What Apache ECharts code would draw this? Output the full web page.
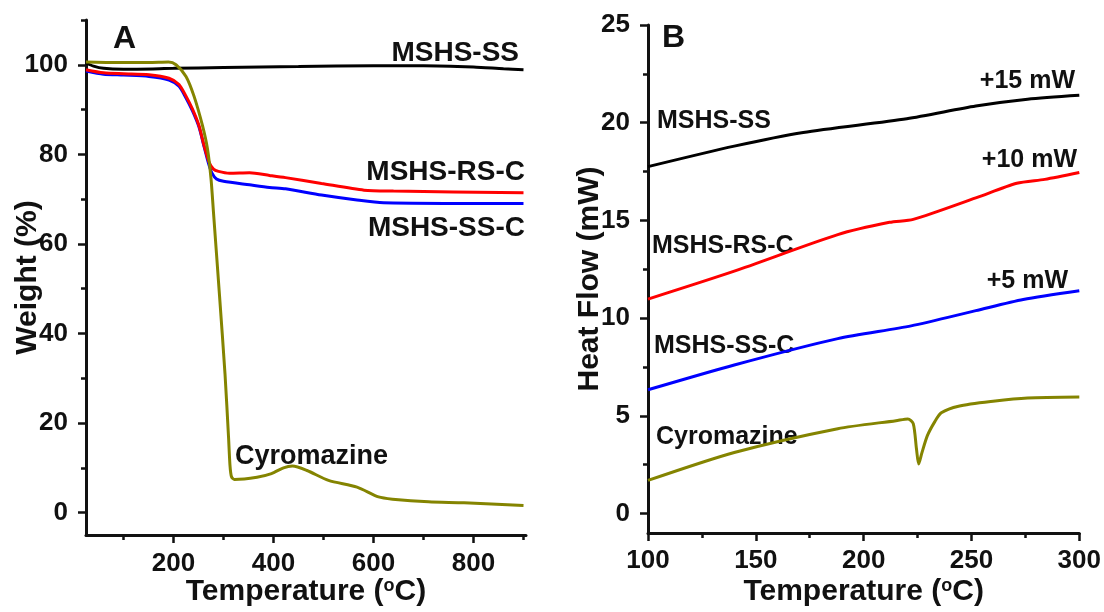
<!DOCTYPE html>
<html>
<head>
<meta charset="utf-8">
<script src="https://cdn.jsdelivr.net/npm/echarts@6/dist/echarts.min.js"></script>
<style>
  html, body { margin: 0; padding: 0; background: #fff; }
  #chart { width: 1104px; height: 612px; }
</style>
</head>
<body>
<div id="chart"></div>
<script>
// panel A: TGA, [temperature, weight %]
var tgaSS = [[25,100.4],[40,99.7],[60,99.2],[100,99.0],[200,99.2],[300,99.4],[450,99.6],[600,99.8],[700,99.8],[800,99.5],[860,99.1],[900,98.9]];
var tgaRSC = [[25,98.9],[60,98.2],[100,98.0],[151,97.8],[191,97.0],[211,95.6],[225,93.0],[238,90.1],[251,86.4],[261,82.0],[271,78.3],[280,76.7],[290,76.2],[312,75.8],[352,75.9],[392,75.3],[424,74.8],[496,73.5],[581,72.0],[640,71.8],[900,71.4]];
var tgaSSC = [[25,98.6],[60,97.9],[100,97.7],[151,97.4],[191,96.6],[211,95.2],[225,92.6],[238,89.7],[251,86.1],[261,81.8],[270,78.0],[277,75.8],[286,74.5],[300,74.0],[352,73.2],[392,72.6],[424,72.3],[496,70.9],[567,69.8],[620,69.2],[900,69.0]];
var tgaCyro = [[25,100.6],[100,100.5],[150,100.5],[190,100.6],[205,100.0],[225,97.4],[241,93.0],[258,86.4],[268,81.2],[275,74.6],[280,67.0],[292,48.5],[303,31.0],[310,17.0],[313,10.5],[316,8.0],[322,7.4],[367,7.9],[396,8.7],[420,10.0],[438,10.4],[467,9.4],[510,7.2],[567,5.7],[610,3.5],[638,3.0],[710,2.4],[781,2.2],[900,1.6]];

// panel B: DSC, [temperature, heat flow mW]
var dscSS = [[100,17.75],[140,18.8],[172,19.5],[220,20.2],[252,20.85],[276,21.2],[300,21.4]];
var dscRSC = [[100,10.97],[140,12.4],[188,14.27],[212,14.9],[223,15.05],[252,16.15],[271,16.9],[284,17.1],[300,17.45]];
var dscSSC = [[100,6.33],[140,7.6],[188,8.95],[222,9.6],[252,10.38],[274,10.95],[300,11.4]];
var dscCyro = [[100,1.69],[140,3.12],[188,4.34],[215,4.75],[220.5,4.84],[223,4.6],[224.5,3.3],[225.5,2.53],[227,3.1],[229.5,3.97],[233,4.7],[236,5.15],[244,5.49],[260,5.74],[276,5.91],[300,5.96]];

var tgaXMajor = [200, 400, 600, 800];
var tgaXMinor = [100, 300, 500, 700, 900];
var tgaYMajor = [0, 20, 40, 60, 80, 100];
var tgaYMinor = [10, 30, 50, 70, 90, 110];
var dscXMajor = [100, 150, 200, 250, 300];
var dscXMinor = [125, 175, 225, 275];
var dscYMajor = [0, 5, 10, 15, 20, 25];
var dscYMinor = [2.5, 7.5, 12.5, 17.5, 22.5];

var FONT = "'Liberation Sans', Arial, sans-serif";
var INK = '#111';

function majorAxis(grid, min, max, ticks, margin, extra) {
    var ax = {
        type: 'value', gridIndex: grid, min: min, max: max,
        axisLine: { show: true, onZero: false, lineStyle: { color: INK, width: 3 } },
        axisTick: { show: true, customValues: ticks, length: 8, lineStyle: { color: INK, width: 2.5 } },
        axisLabel: { customValues: ticks, margin: margin, color: INK, fontSize: 26, fontWeight: 'bold', fontFamily: FONT },
        splitLine: { show: false },
        nameMoveOverlap: false
    };
    for (var k in extra) ax[k] = extra[k];
    return ax;
}
function minorAxis(grid, min, max, ticks, pos) {
    return {
        type: 'value', gridIndex: grid, min: min, max: max, position: pos,
        axisLine: { show: false, onZero: false },
        axisTick: { show: true, customValues: ticks, length: 5, lineStyle: { color: INK, width: 2.5 } },
        axisLabel: { show: false },
        splitLine: { show: false }
    };
}

function tempName(gap) {
    return {
        position: 'bottom',
        name: 'Temperature ({sup|o}C)', nameLocation: 'middle', nameGap: gap,
        nameTextStyle: {
            color: INK, fontSize: 30, fontWeight: 'bold', fontFamily: FONT,
            rich: { sup: { fontSize: 18, fontWeight: 'bold', fontFamily: FONT, color: INK, verticalAlign: 'top' } }
        }
    };
}
function sideName(text, gap) {
    return {
        position: 'left', name: text, nameLocation: 'middle', nameGap: gap,
        nameTextStyle: { color: INK, fontSize: 30, fontWeight: 'bold', fontFamily: FONT }
    };
}

function line(name, x, y, data, color) {
    return {
        name: name, type: 'line', xAxisIndex: x, yAxisIndex: y, data: data,
        showSymbol: false, smooth: 0.25,
        lineStyle: { color: color, width: 3 }, z: 3
    };
}

function label(text, x, y, size, align) {
    return {
        type: 'text', x: x, y: y,
        style: { text: text, fill: INK, font: 'bold ' + size + 'px ' + FONT, textAlign: align, textVerticalAlign: 'middle' }
    };
}

var chart = echarts.init(document.getElementById('chart'));
chart.setOption({
    animation: false,
    backgroundColor: '#fff',
    grid: [
        { left: 86, top: 20, width: 440, height: 520 },
        { left: 648, top: 25, width: 432, height: 513 }
    ],
    xAxis: [
        majorAxis(0, 25, 905, tgaXMajor, 16, tempName(42)),
        minorAxis(0, 25, 905, tgaXMinor, 'bottom'),
        majorAxis(1, 100, 300, dscXMajor, 15, tempName(44)),
        minorAxis(1, 100, 300, dscXMinor, 'bottom')
    ],
    yAxis: [
        majorAxis(0, -5, 110, tgaYMajor, 18, sideName('Weight (%)', 43)),
        minorAxis(0, -5, 110, tgaYMinor, 'left'),
        majorAxis(1, -1, 25, dscYMajor, 18, sideName('Heat Flow (mW)', 43)),
        minorAxis(1, -1, 25, dscYMinor, 'left')
    ],
    series: [
        line('MSHS-SS', 0, 0, tgaSS, '#000000'),
        line('MSHS-SS-C', 0, 0, tgaSSC, '#0000ff'),
        line('MSHS-RS-C', 0, 0, tgaRSC, '#ff0000'),
        line('Cyromazine', 0, 0, tgaCyro, '#848400'),
        line('MSHS-SS', 2, 2, dscSS, '#000000'),
        line('MSHS-RS-C', 2, 2, dscRSC, '#ff0000'),
        line('MSHS-SS-C', 2, 2, dscSSC, '#0000ff'),
        line('Cyromazine', 2, 2, dscCyro, '#848400')
    ],
    graphic: [
        label('A', 113, 39, 32, 'left'),
        label('MSHS-SS', 519, 53, 28, 'right'),
        label('MSHS-RS-C', 525, 172, 28, 'right'),
        label('MSHS-SS-C', 525, 228, 28, 'right'),
        label('Cyromazine', 235, 457, 27, 'left'),
        label('B', 662, 38, 32, 'left'),
        label('+15 mW', 1075, 81, 25, 'right'),
        label('MSHS-SS', 657, 121, 25, 'left'),
        label('+10 mW', 1077, 160, 25, 'right'),
        label('MSHS-RS-C', 652, 246, 25, 'left'),
        label('+5 mW', 1068, 281, 25, 'right'),
        label('MSHS-SS-C', 654, 346, 25, 'left'),
        label('Cyromazine', 656, 437, 25, 'left')
    ]
});
</script>
</body>
</html>
